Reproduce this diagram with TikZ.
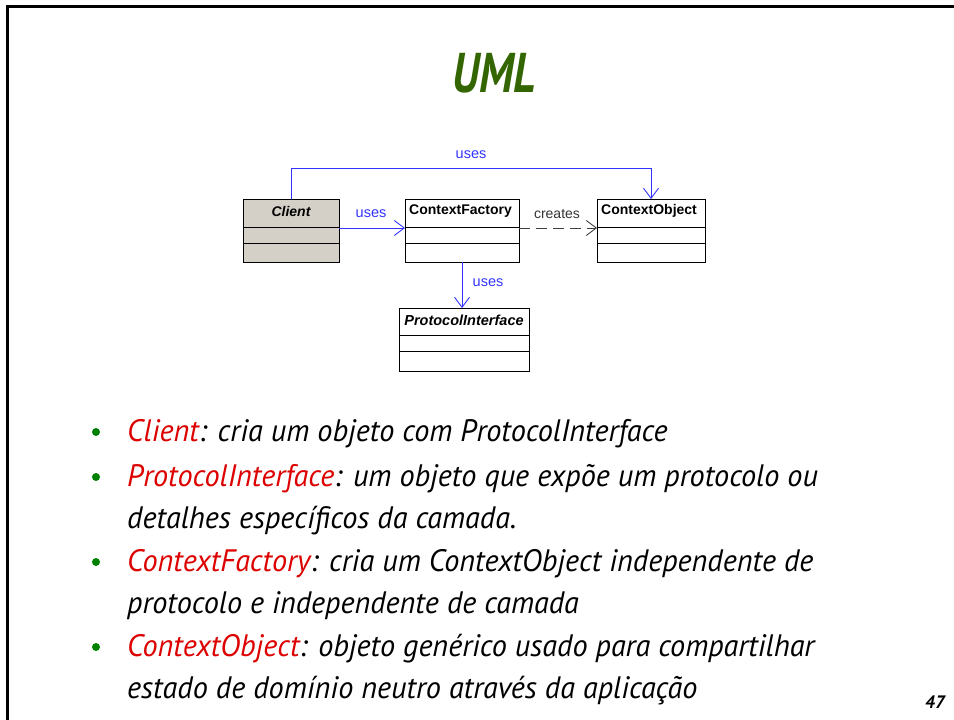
\documentclass[tikz,border=0pt]{standalone}
\usepackage{fontspec}
\setmainfont{PT Sans}
\newfontfamily\umlfont{Liberation Sans}
\usetikzlibrary{arrows.meta}
\definecolor{umlgray}{HTML}{D4D0C8}
\definecolor{usesblue}{HTML}{3333FF}
\definecolor{titlegreen}{HTML}{336600}
\definecolor{termred}{HTML}{DD0000}
\definecolor{bulletgreen}{HTML}{008000}
\tikzset{
  depend/.style={draw=usesblue, line width=0.9pt, -{Straight Barb[length=10pt,width=15pt,line width=0.9pt]}},
  createsdep/.style={draw=black!75, line width=0.9pt, dash pattern=on 11pt off 6pt, -{Straight Barb[length=10pt,width=15pt,line width=0.9pt]}},
  usestext/.style={font=\umlfont\fontsize{14.5}{16}\selectfont, text=usesblue, inner sep=1pt},
  createstext/.style={font=\umlfont\fontsize{14}{16}\selectfont, text=black!80, inner sep=1pt},
  classname/.style={font=\umlfont\fontsize{14}{16}\selectfont\bfseries, inner sep=0pt},
  bodyline/.style={anchor=base west, inner sep=0pt, font=\fontsize{31}{34}\selectfont\itshape, xscale=0.975},
  bulletdot/.style={circle, fill=bulletgreen, inner sep=0pt, minimum size=8pt},
}
\begin{document}
\begin{tikzpicture}[x=1pt, y=-1pt]
\useasboundingbox (0,0) rectangle (954,720);
% slide frame (top and left edges only)
\draw[line width=3pt, black] (7,721) -- (7,6) -- (955,6);

% title
\node[font=\fontsize{56}{60}\selectfont\bfseries\itshape, text=titlegreen, xscale=0.8] (title) at (494,73) {UML};

% --- class: Client (grey, abstract) ---
\draw[line width=1pt, fill=umlgray] (243,199) rectangle (339,262);
\draw[line width=1pt] (243,227) -- (339,227) (243,243) -- (339,243);
\node[classname, font=\umlfont\fontsize{14}{16}\selectfont\bfseries\itshape] (clientname) at (291,211) {Client};
\coordinate (client-top) at (291,199);
\coordinate (client-right) at (339,228);

% --- class: ContextFactory ---
\draw[line width=1pt, fill=white] (405,199) rectangle (519,262);
\draw[line width=1pt] (405,227) -- (519,227) (405,243) -- (519,243);
\node[classname, anchor=west] (cfname) at (409,211) {ContextFactory};
\coordinate (cf-left) at (405,228);
\coordinate (cf-right) at (519,228);
\coordinate (cf-bottom) at (462,262);

% --- class: ContextObject ---
\draw[line width=1pt, fill=white] (597,199) rectangle (705,262);
\draw[line width=1pt] (597,227) -- (705,227) (597,243) -- (705,243);
\node[classname, anchor=west] (coname) at (601,211) {ContextObject};
\coordinate (co-left) at (597,228);
\coordinate (co-top) at (651,199);

% --- class: ProtocolInterface (abstract) ---
\draw[line width=1pt, fill=white] (399,308) rectangle (529,371);
\draw[line width=1pt] (399,335) -- (529,335) (399,351) -- (529,351);
\node[classname, font=\umlfont\fontsize{14.5}{16}\selectfont\bfseries\itshape] (piname) at (464,320) {ProtocolInterface};
\coordinate (pi-top) at (462,308);

% --- dependencies ---
\coordinate (bendA) at (291,168);
\coordinate (bendB) at (651,168);
\draw[depend] (client-top) -- (bendA) -- (bendB) -- (co-top);
\node[usestext] (uses1) at (471,155) {uses};
\draw[depend] (client-right) -- (cf-left);
\node[usestext] (uses2) at (371,214) {uses};
\draw[createsdep] (cf-right) -- (co-left);
\node[createstext] (creates) at (557,214) {creates};
\draw[depend] (cf-bottom) -- (pi-top);
\node[usestext] (uses3) at (488,283) {uses};

% --- bullet list ---
\node[bulletdot] (b1) at (96,432) {};
\node[bodyline] (l1) at (127,441) {\textcolor{termred}{Client}: cria um objeto com ProtocolInterface};
\node[bulletdot] (b2) at (96,477) {};
\node[bodyline] (l2) at (127,486) {\textcolor{termred}{ProtocolInterface}: um objeto que expõe um protocolo ou};
\node[bodyline] (l3) at (127,528) {detalhes específicos da camada.};
\node[bulletdot] (b3) at (96,562) {};
\node[bodyline] (l4) at (127,571) {\textcolor{termred}{ContextFactory}: cria um ContextObject independente de};
\node[bodyline] (l5) at (127,613) {protocolo e independente de camada};
\node[bulletdot] (b4) at (96,647) {};
\node[bodyline] (l6) at (127,656) {\textcolor{termred}{ContextObject}: objeto genérico usado para compartilhar};
\node[bodyline] (l7) at (127,698) {estado de domínio neutro através da aplicação};

% page number
\node[font=\fontsize{18}{20}\selectfont\bfseries\itshape] (pagenum) at (935,702) {47};
\end{tikzpicture}
\end{document}
